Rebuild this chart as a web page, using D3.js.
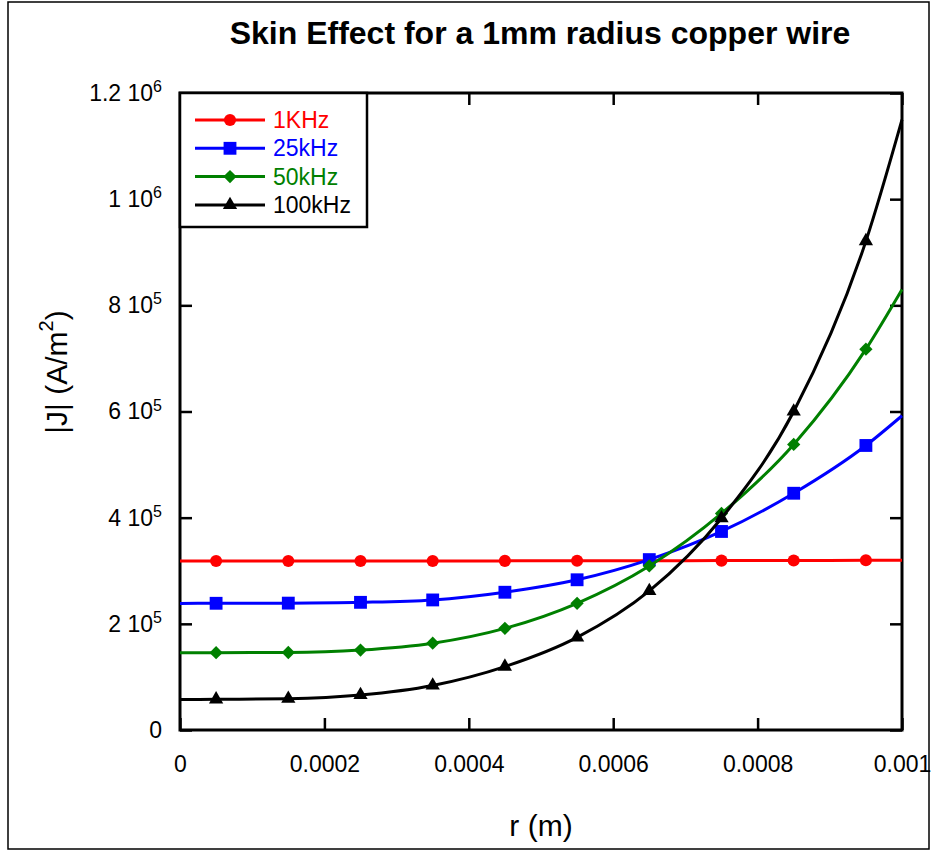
<!DOCTYPE html>
<html>
<head>
<meta charset="utf-8">
<title>Skin Effect</title>
<script src="https://cdn.jsdelivr.net/npm/d3@7"></script>
<style>
  body { margin: 0; background: #fff; }
  svg { font-family: Arial, "Liberation Sans", sans-serif; }
</style>
</head>
<body>
<div id="chart"></div>
<script>
// radius samples (m) - markers sit on the inner ones, curve runs 0..0.001
const radius = [0, 0.00005, 0.00015, 0.00025, 0.00035, 0.00045, 0.00055, 0.00065, 0.00075, 0.00085, 0.00095, 0.001];

// |J| (A/m^2)
const j1k   = [318500, 318500, 318500, 318500, 318500, 318600, 318700, 318900, 319100, 319400, 319700, 320000];
const j25k  = [238500, 238700, 239000, 240500, 245000, 259500, 283000, 321000, 374000, 446000, 536000, 592000];
const j50k  = [145500, 145700, 146000, 150500, 163500, 191500, 238700, 309000, 408000, 538000, 717500, 830000];
const j100k = [57500, 57800, 59000, 66000, 84000, 119500, 174500, 262000, 399000, 600000, 921000, 1150000];

const seriesNames = ['1KHz', '25kHz', '50kHz', '100kHz'];
const seriesColors = ['#ff0000', '#0000ff', '#008000', '#000000'];

const xTicks = [0, 0.0002, 0.0004, 0.0006, 0.0008, 0.001];
const xTickLabels = ['0', '0.0002', '0.0004', '0.0006', '0.0008', '0.001'];
const yTicks = [0, 200000, 400000, 600000, 800000, 1000000, 1200000];
const yTickMantissa = ['0', '2', '4', '6', '8', '1', '1.2'];
const yTickExponent = ['', '5', '5', '5', '5', '6', '6'];

const width = 935, height = 852;
const plot = { left: 180, right: 902, top: 93, bottom: 730 };

const svg = d3.select('#chart')
  .append('svg')
  .attr('width', width)
  .attr('height', height);

// outer frame of the picture
svg.append('rect')
  .attr('x', 8).attr('y', 2)
  .attr('width', 921).attr('height', 847)
  .attr('fill', 'none')
  .attr('stroke', '#000')
  .attr('stroke-width', 1.5);

const x = d3.scaleLinear().domain([0, 0.001]).range([plot.left, plot.right]);
const y = d3.scaleLinear().domain([0, 1200000]).range([plot.bottom, plot.top]);

// title
svg.append('text')
  .attr('x', 540)
  .attr('y', 44)
  .attr('text-anchor', 'middle')
  .attr('font-size', 32)
  .attr('font-weight', 'bold')
  .text('Skin Effect for a 1mm radius copper wire');

// axes, ticks pointing inwards
const tickLen = 12;

svg.append('g')
  .attr('transform', `translate(0,${plot.bottom})`)
  .call(d3.axisBottom(x).tickValues(xTicks).tickSizeInner(-tickLen).tickSizeOuter(0)
    .tickPadding(26).tickFormat((d, i) => xTickLabels[i]));

svg.append('g')
  .attr('transform', `translate(0,${plot.top})`)
  .call(d3.axisTop(x).tickValues(xTicks).tickSizeInner(-tickLen).tickSizeOuter(0).tickFormat(''));

const yAxis = svg.append('g')
  .attr('transform', `translate(${plot.left},0)`)
  .call(d3.axisLeft(y).tickValues(yTicks).tickSizeInner(-tickLen).tickSizeOuter(0).tickPadding(18));

svg.append('g')
  .attr('transform', `translate(${plot.right},0)`)
  .call(d3.axisRight(y).tickValues(yTicks).tickSizeInner(-tickLen).tickSizeOuter(0).tickFormat(''));

svg.selectAll('.domain').remove();
svg.selectAll('.tick line').attr('stroke', '#000').attr('stroke-width', 2.5);
svg.selectAll('.tick text').attr('font-size', 23).attr('fill', '#000').attr('font-family', null);

// y labels like "8 10^5"
yAxis.selectAll('.tick text').each(function (d, i) {
  const t = d3.select(this).text(null);
  if (yTickExponent[i] === '') {
    t.text(yTickMantissa[i]);
    return;
  }
  t.append('tspan').text(yTickMantissa[i] + ' 10');
  t.append('tspan').attr('font-size', 16).attr('dy', '-0.55em').text(yTickExponent[i]);
});

// plot frame
svg.append('rect')
  .attr('x', plot.left).attr('y', plot.top)
  .attr('width', plot.right - plot.left).attr('height', plot.bottom - plot.top)
  .attr('fill', 'none')
  .attr('stroke', '#000')
  .attr('stroke-width', 3);

// axis titles
svg.append('text')
  .attr('x', 541)
  .attr('y', 836)
  .attr('text-anchor', 'middle')
  .attr('font-size', 30)
  .text('r (m)');

const yTitle = svg.append('text')
  .attr('transform', 'translate(67,372) rotate(-90)')
  .attr('text-anchor', 'middle')
  .attr('font-size', 30);
yTitle.append('tspan').text('|J| (A/m');
yTitle.append('tspan').attr('font-size', 20).attr('dy', '-0.7em').text('2');
yTitle.append('tspan').attr('dy', '0.46em').text(')');

// series
const allSeries = [j1k, j25k, j50k, j100k].map((vals, i) => ({
  name: seriesNames[i],
  color: seriesColors[i],
  points: radius.map((r, k) => ({ r: r, j: vals[k] }))
}));

const symbols = [
  d3.symbol().type(d3.symbolCircle).size(115),
  d3.symbol().type(d3.symbolSquare).size(165),
  d3.symbol().type(d3.symbolSquare).size(88),
  d3.symbol().type(d3.symbolTriangle).size(88)
];
const symbolRotate = [0, 0, 45, 0];

const line = d3.line()
  .x(d => x(d.r))
  .y(d => y(d.j))
  .curve(d3.curveMonotoneX);

allSeries.forEach((s, i) => {
  svg.append('path')
    .datum(s.points)
    .attr('fill', 'none')
    .attr('stroke', s.color)
    .attr('stroke-width', 3)
    .attr('d', line);

  svg.selectAll(null)
    .data(s.points.filter(d => d.r > 0 && d.r < 0.001))
    .enter()
    .append('path')
    .attr('d', symbols[i])
    .attr('transform', d => `translate(${x(d.r)},${y(d.j)}) rotate(${symbolRotate[i]})`)
    .attr('fill', s.color);
});

// legend box
const legend = svg.append('g');
legend.append('rect')
  .attr('x', plot.left).attr('y', plot.top)
  .attr('width', 187).attr('height', 134)
  .attr('fill', '#fff')
  .attr('stroke', '#000')
  .attr('stroke-width', 2.5);

allSeries.forEach((s, i) => {
  const ly = 120 + i * 28.3;
  legend.append('line')
    .attr('x1', 195).attr('x2', 265)
    .attr('y1', ly).attr('y2', ly)
    .attr('stroke', s.color)
    .attr('stroke-width', 3);
  legend.append('path')
    .attr('d', symbols[i])
    .attr('transform', `translate(230,${ly}) rotate(${symbolRotate[i]})`)
    .attr('fill', s.color);
  legend.append('text')
    .attr('x', 273)
    .attr('y', ly + 8)
    .attr('font-size', 23)
    .attr('fill', s.color)
    .text(s.name);
});
</script>
</body>
</html>
